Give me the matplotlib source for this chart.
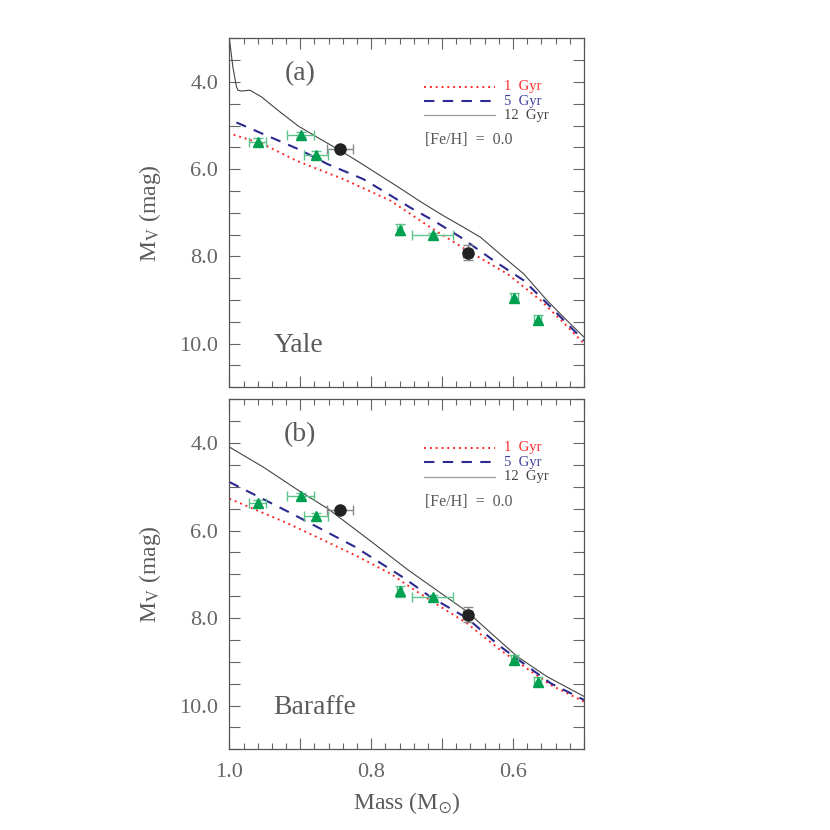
import matplotlib
matplotlib.use('Agg')
import matplotlib.pyplot as plt
from matplotlib.ticker import MultipleLocator, FuncFormatter

plt.rcParams['font.family'] = ['Liberation Serif', 'DejaVu Serif']
plt.rcParams['mathtext.fontset'] = 'stix'

# observed binaries: green triangles
tri_mass = [0.960, 0.899, 0.878, 0.760, 0.713, 0.598, 0.565]
tri_mag = [5.37, 5.21, 5.67, 7.39, 7.52, 8.95, 9.45]
tri_xerr = [0.012, 0.019, 0.017, 0.004, 0.029, 0.005, 0.005]
tri_yerr = [0.08, 0.06, 0.08, 0.13, 0.05, 0.10, 0.10]

# black circles
circ_mass = [0.844, 0.664]
circ_mag = [5.53, 7.92]
circ_xerr = [0.018, 0.006]
circ_yerr = [0.05, 0.17]

# Yale isochrones
yale_m1 = [0.994, 0.952, 0.905, 0.839, 0.773, 0.717, 0.665, 0.608, 0.561, 0.530, 0.500]
yale_v1 = [5.21, 5.43, 5.81, 6.23, 6.72, 7.33, 7.86, 8.40, 9.01, 9.50, 10.00]
yale_m5 = [0.990, 0.943, 0.900, 0.862, 0.811, 0.778, 0.745, 0.710, 0.674, 0.627, 0.585, 0.547, 0.500]
yale_v5 = [4.93, 5.26, 5.56, 5.88, 6.23, 6.55, 6.88, 7.20, 7.56, 8.10, 8.55, 9.16, 9.93]
yale_m12 = [1.000, 0.995, 0.990, 0.988, 0.983, 0.971, 0.955, 0.930, 0.903, 0.875, 0.844, 0.815,
            0.787, 0.760, 0.731, 0.698, 0.670, 0.646, 0.613, 0.585, 0.552, 0.524, 0.500]
yale_v12 = [3.00, 3.66, 4.11, 4.19, 4.21, 4.19, 4.34, 4.67, 5.01, 5.28, 5.57, 5.86,
            6.15, 6.43, 6.74, 7.07, 7.33, 7.56, 8.02, 8.40, 9.01, 9.47, 9.85]

# Baraffe isochrones
bar_m1 = [1.000, 0.917, 0.823, 0.771, 0.749, 0.717, 0.665, 0.618, 0.547, 0.500]
bar_v1 = [5.27, 5.84, 6.56, 7.00, 7.25, 7.59, 8.12, 8.73, 9.53, 9.91]
bar_m5 = [1.000, 0.917, 0.823, 0.755, 0.717, 0.665, 0.618, 0.547, 0.500]
bar_v5 = [4.89, 5.57, 6.37, 7.07, 7.51, 8.00, 8.65, 9.49, 9.87]
bar_m12 = [1.000, 0.952, 0.899, 0.861, 0.800, 0.748, 0.700, 0.665, 0.630, 0.594, 0.552, 0.500]
bar_v12 = [4.09, 4.55, 5.12, 5.50, 6.25, 6.90, 7.45, 7.85, 8.36, 8.88, 9.34, 9.79]

ages = ['1  Gyr', '5  Gyr', '12  Gyr']
red = '#ff2a2a'
blue = '#2a2a90'
grey = '#444444'
txt = '#5a5a5a'
tri_c = '#00a050'
tri_ec = '#5cc48a'

fig = plt.figure(figsize=(8.3, 8.3), dpi=100)
ax1 = fig.add_axes([0.2763, 0.5334, 0.4273, 0.4205])
ax2 = fig.add_axes([0.2763, 0.0972, 0.4273, 0.4217])


def ylab(v, pos):
    if abs(v / 2 - round(v / 2)) < 1e-6:
        return '%.1f' % v
    return ''


def xlab(v, pos):
    if abs(v * 5 - round(v * 5)) < 1e-6:
        return '%.1f' % v
    return ''


def panel(ax, m1, v1, m5, v5, m12, v12, tag, name):
    ax.plot(m1, v1, color=red, lw=1.4, ls=(0, (1, 2)))
    ax.plot(m5, v5, color=blue, lw=1.5, ls=(0, (5, 4)))
    ax.plot(m12, v12, color=grey, lw=0.8)

    ax.errorbar(tri_mass, tri_mag, xerr=tri_xerr, yerr=tri_yerr, fmt='^', color=tri_c,
                ms=7.5, ecolor=tri_ec, elinewidth=1.0, capsize=3.5, capthick=1.0, zorder=4)
    ax.errorbar(circ_mass, circ_mag, xerr=circ_xerr, yerr=circ_yerr, fmt='o', color='#222222',
                ms=8, ecolor='#888888', elinewidth=1.0, capsize=3.5, capthick=1.0, zorder=4)

    # legend keys
    for i, (c, ls, lw) in enumerate([(red, (0, (1, 2)), 1.4), (blue, (0, (5, 4)), 1.5),
                                     ('#999999', '-', 0.9)]):
        yy = 0.861 - i * 0.041
        ax.plot([0.549, 0.749], [yy, yy], color=c, ls=ls, lw=lw, transform=ax.transAxes)
        ax.text(0.775, yy, ages[i], color=[red, '#4040a0', grey][i], fontsize=10.5,
                va='center', ha='left', transform=ax.transAxes)
    ax.text(0.553, 0.708, '[Fe/H]  =  0.0', color=txt, fontsize=11.5, va='center',
            ha='left', transform=ax.transAxes)

    ax.text(0.90, 3.8, tag, fontsize=20, color=txt, ha='center', va='center')
    ax.text(0.938, 10.05, name, fontsize=20, color=txt, ha='left', va='center')

    ax.set_xlim(1.0, 0.5)
    ax.set_ylim(11.0, 3.0)
    ax.xaxis.set_major_locator(MultipleLocator(0.1))
    ax.xaxis.set_minor_locator(MultipleLocator(0.02))
    ax.yaxis.set_major_locator(MultipleLocator(0.5))
    ax.yaxis.set_major_formatter(FuncFormatter(ylab))
    ax.xaxis.set_major_formatter(FuncFormatter(xlab))
    ax.tick_params(which='both', direction='in', top=True, right=True, colors='#666666',
                   labelsize=16, width=0.8)
    ax.tick_params(axis='y', which='major', length=8, pad=8)
    ax.tick_params(axis='x', which='major', length=8, pad=10)
    ax.tick_params(axis='x', which='minor', length=4)
    for s in ax.spines.values():
        s.set_color('#555555')
        s.set_linewidth(0.9)
    ax.set_ylabel('M$_{\\mathrm{V}}$ (mag)', fontsize=17, color=txt, labelpad=12)


panel(ax1, yale_m1, yale_v1, yale_m5, yale_v5, yale_m12, yale_v12, '(a)', 'Yale')
panel(ax2, bar_m1, bar_v1, bar_m5, bar_v5, bar_m12, bar_v12, '(b)', 'Baraffe')
ax1.tick_params(axis='x', labelbottom=False)
ax2.set_xlabel('Mass (M$_{\\odot}$)', fontsize=17, color=txt, labelpad=6)

fig.savefig('out.png', dpi=100)
